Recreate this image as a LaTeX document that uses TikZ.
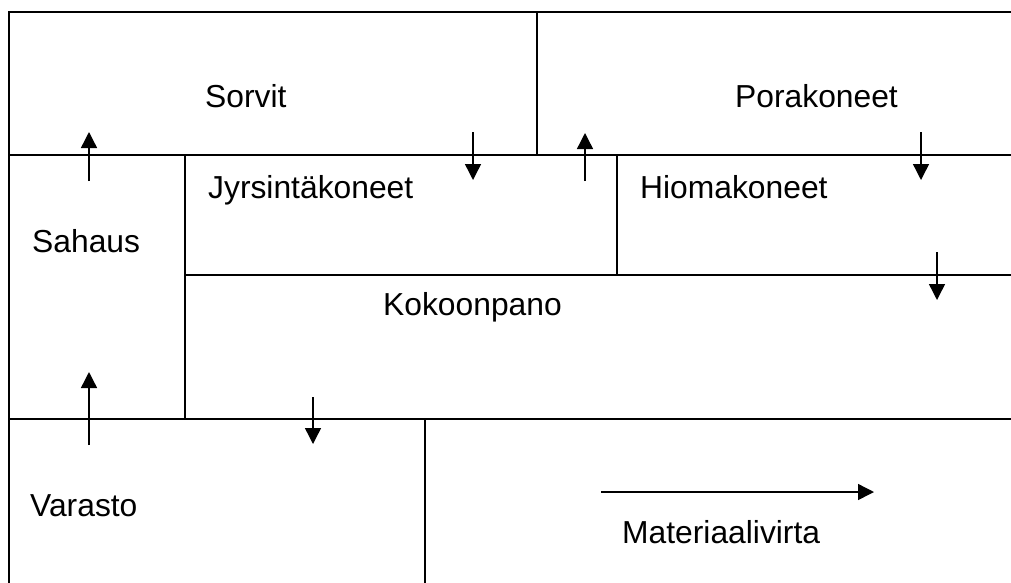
\documentclass[tikz,border=0pt]{standalone}
\usepackage{fontspec}
\setmainfont{Liberation Sans}
\usetikzlibrary{arrows.meta}
\begin{document}
\begin{tikzpicture}[x=1pt,y=-1pt,
  wall/.style={line width=1.6pt, line cap=rect},
  flow/.style={line width=1.4pt, -{Triangle[width=16pt,length=16pt]}},
  lbl/.style={anchor=base west, inner sep=0pt, font=\fontsize{31.8}{38}\selectfont}]
\useasboundingbox (0,0) rectangle (1011,582);
% walls
\draw[wall] (1015,12) -- (9,12) -- (9,586);
\draw[wall] (9,155) -- (1015,155);
\draw[wall] (537,12) -- (537,155);
\draw[wall] (185,155) -- (185,419);
\draw[wall] (617,155) -- (617,275);
\draw[wall] (185,275) -- (1015,275);
\draw[wall] (9,419) -- (1015,419);
\draw[wall] (425,419) -- (425,586);
% labels
\node[lbl] (sorvit) at (205,107) {Sorvit};
\node[lbl] (pora) at (735,107) {Porakoneet};
\node[lbl] (jyrs) at (208,198) {Jyrsintäkoneet};
\node[lbl] (hioma) at (640,198) {Hiomakoneet};
\node[lbl] (sahaus) at (32,252) {Sahaus};
\node[lbl] (kokoon) at (383,315) {Kokoonpano};
\node[lbl] (varasto) at (30,516) {Varasto};
\node[lbl] (mat) at (622,543) {Materiaalivirta};
% arrow end points
\coordinate (a1s) at (89,181); \coordinate (a1e) at (89,132);
\coordinate (a2s) at (473,132); \coordinate (a2e) at (473,180);
\coordinate (a3s) at (585,181); \coordinate (a3e) at (585,133);
\coordinate (a4s) at (921,132); \coordinate (a4e) at (921,180);
\coordinate (a5s) at (937,252); \coordinate (a5e) at (937,300);
\coordinate (a6s) at (89,445); \coordinate (a6e) at (89,372);
\coordinate (a7s) at (313,397); \coordinate (a7e) at (313,444);
\coordinate (a8s) at (601,492); \coordinate (a8e) at (874,492);
\draw[flow] (a1s) -- (a1e);
\draw[flow] (a2s) -- (a2e);
\draw[flow] (a3s) -- (a3e);
\draw[flow] (a4s) -- (a4e);
\draw[flow] (a5s) -- (a5e);
\draw[flow] (a6s) -- (a6e);
\draw[flow] (a7s) -- (a7e);
\draw[flow] (a8s) -- (a8e);
\end{tikzpicture}
\end{document}
